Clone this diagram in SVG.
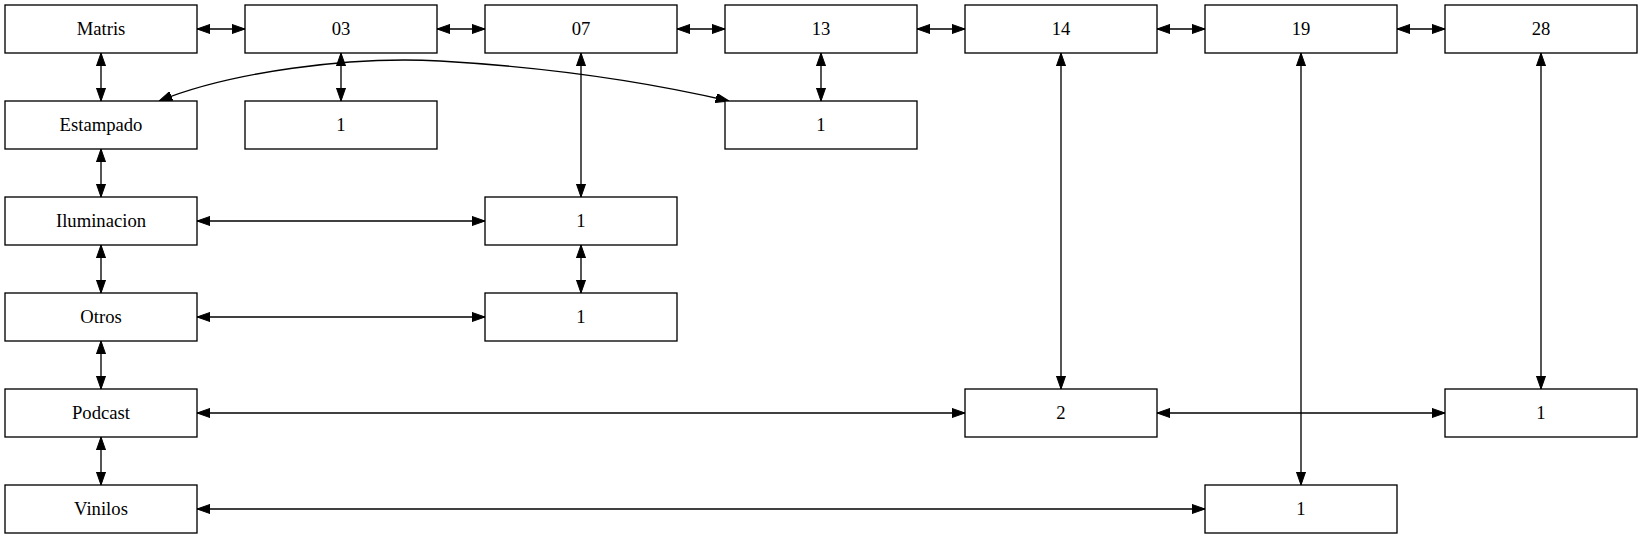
<svg xmlns="http://www.w3.org/2000/svg" width="1643" height="539" viewBox="0 0 1643 539">
<style>
.n rect{fill:#fff;stroke:#000;stroke-width:1.33}
.n text{font-family:"Liberation Serif","Times New Roman",serif;font-size:18.67px;text-anchor:middle;fill:#000}
.e path{fill:none;stroke:#000;stroke-width:1.33;marker-start:url(#ah);marker-end:url(#ah)}
</style>
<defs>
<marker id="ah" markerUnits="userSpaceOnUse" viewBox="0 0 13.33 9.33" markerWidth="13.33" markerHeight="9.33" refX="13.33" refY="4.67" orient="auto-start-reverse">
<path d="M0,0 L13.33,4.67 L0,9.33 z" fill="#000" stroke="#000" stroke-width="1"/>
</marker>
</defs>
<rect width="1643" height="539" fill="#fff"/>
<g id="edges" class="e">
<path d="M197,29 H245"/>
<path d="M437,29 H485"/>
<path d="M677,29 H725"/>
<path d="M917,29 H965"/>
<path d="M1157,29 H1205"/>
<path d="M1397,29 H1445"/>
<path d="M101,53 V101"/>
<path d="M101,149 V197"/>
<path d="M101,245 V293"/>
<path d="M101,341 V389"/>
<path d="M101,437 V485"/>
<path d="M341,53 V101"/>
<path d="M581,53 V197"/>
<path d="M821,53 V101"/>
<path d="M1061,53 V389"/>
<path d="M1301,53 V485"/>
<path d="M1541,53 V389"/>
<path d="M197,221 H485"/>
<path d="M197,317 H485"/>
<path d="M581,245 V293"/>
<path d="M197,413 H965"/>
<path d="M1157,413 H1445"/>
<path d="M197,509 H1205"/>
<path d="M159,101 C230,72 350,56 440,61 C560,68 660,85 729,101"/>
</g>
<g id="n_matris" class="n"><rect x="5" y="5" width="192" height="48"/><text x="101" y="35">Matris</text></g>
<g id="n_estampado" class="n"><rect x="5" y="101" width="192" height="48"/><text x="101" y="131">Estampado</text></g>
<g id="n_iluminacion" class="n"><rect x="5" y="197" width="192" height="48"/><text x="101" y="227">Iluminacion</text></g>
<g id="n_otros" class="n"><rect x="5" y="293" width="192" height="48"/><text x="101" y="323">Otros</text></g>
<g id="n_podcast" class="n"><rect x="5" y="389" width="192" height="48"/><text x="101" y="419">Podcast</text></g>
<g id="n_vinilos" class="n"><rect x="5" y="485" width="192" height="48"/><text x="101" y="515">Vinilos</text></g>
<g id="n_03" class="n"><rect x="245" y="5" width="192" height="48"/><text x="341" y="35">03</text></g>
<g id="n_07" class="n"><rect x="485" y="5" width="192" height="48"/><text x="581" y="35">07</text></g>
<g id="n_13" class="n"><rect x="725" y="5" width="192" height="48"/><text x="821" y="35">13</text></g>
<g id="n_14" class="n"><rect x="965" y="5" width="192" height="48"/><text x="1061" y="35">14</text></g>
<g id="n_19" class="n"><rect x="1205" y="5" width="192" height="48"/><text x="1301" y="35">19</text></g>
<g id="n_28" class="n"><rect x="1445" y="5" width="192" height="48"/><text x="1541" y="35">28</text></g>
<g id="n_03_1" class="n"><rect x="245" y="101" width="192" height="48"/><text x="341" y="131">1</text></g>
<g id="n_13_1" class="n"><rect x="725" y="101" width="192" height="48"/><text x="821" y="131">1</text></g>
<g id="n_07_ilum" class="n"><rect x="485" y="197" width="192" height="48"/><text x="581" y="227">1</text></g>
<g id="n_07_otros" class="n"><rect x="485" y="293" width="192" height="48"/><text x="581" y="323">1</text></g>
<g id="n_14_2" class="n"><rect x="965" y="389" width="192" height="48"/><text x="1061" y="419">2</text></g>
<g id="n_28_1" class="n"><rect x="1445" y="389" width="192" height="48"/><text x="1541" y="419">1</text></g>
<g id="n_19_1" class="n"><rect x="1205" y="485" width="192" height="48"/><text x="1301" y="515">1</text></g>
</svg>
